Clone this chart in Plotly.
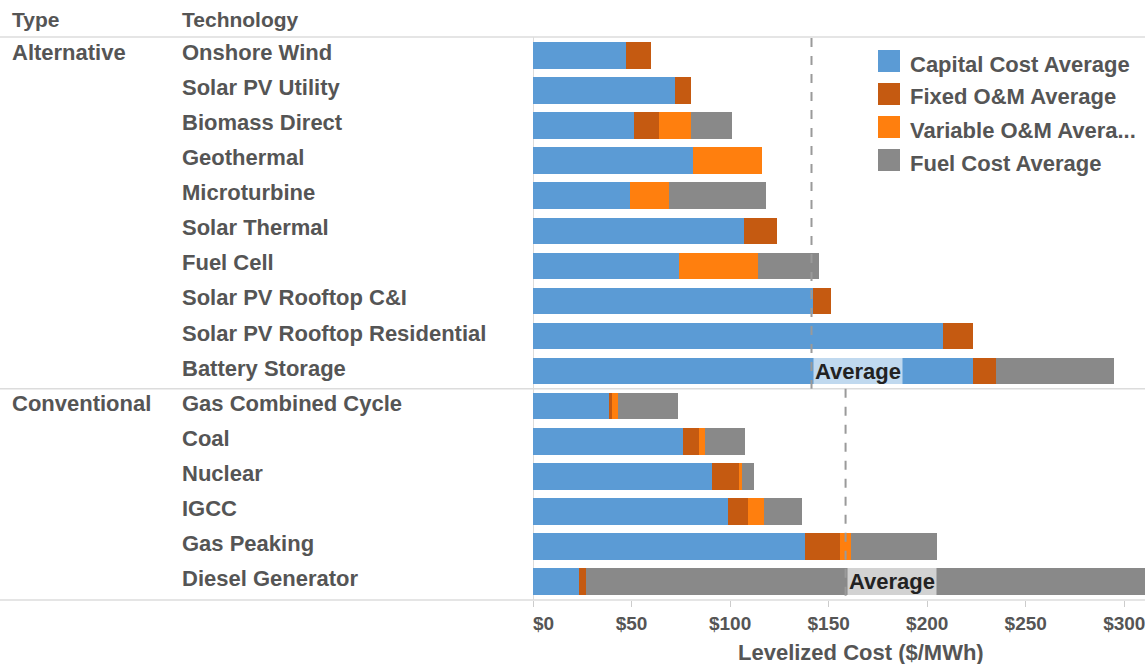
import plotly.graph_objects as go

# ---------------- data ----------------
types = ["Alternative", "Conventional"]
alt_tech = ["Onshore Wind", "Solar PV Utility", "Biomass Direct", "Geothermal", "Microturbine",
            "Solar Thermal", "Fuel Cell", "Solar PV Rooftop C&I", "Solar PV Rooftop Residential",
            "Battery Storage"]
conv_tech = ["Gas Combined Cycle", "Coal", "Nuclear", "IGCC", "Gas Peaking", "Diesel Generator"]

capital_cost = [47, 72, 51, 81, 49, 107, 74, 142, 208, 223,
                38.5, 76, 91, 99, 138, 23.5]
fixed_om = [13, 8, 13, 0, 0, 17, 0, 9, 15, 12,
            1.5, 8, 14, 10, 18, 3.5]
variable_om = [0, 0, 16, 35, 20, 0, 40, 0, 0, 0,
               3, 3.5, 1, 8, 5.5, 0]
fuel_cost = [0, 0, 21, 0, 49, 0, 31, 0, 0, 60,
             30.5, 20, 6, 19.5, 43.5, 290]

series_names = ["Capital Cost Average", "Fixed O&M Average", "Variable O&M Avera...", "Fuel Cost Average"]
series_colors = ["#5B9BD5", "#C55A11", "#FF7F0E", "#898989"]

tick_vals = [0, 50, 100, 150, 200, 250, 300]
tick_text = ["$0", "$50", "$100", "$150", "$200", "$250", "$300"]

# ---------------- figure ----------------
techs = alt_tech + conv_tech
series_values = [capital_cost, fixed_om, variable_om, fuel_cost]

W, H = 1145, 664
ML, MR, MT, MB = 533, 0, 37, 64
PW, PH = W - ML - MR, H - MT - MB


def px_x(p):
    return (p - ML) / PW


def px_y(p):
    return 1 - (p - MT) / PH


FONT = "Liberation Sans, Arial, sans-serif"
LABEL_COLOR = "#555555"
FS = 22

fig = go.Figure()
for name, vals, col in zip(series_names, series_values, series_colors):
    fig.add_trace(go.Bar(
        y=techs, x=vals, name=name, orientation="h",
        marker=dict(color=col, line=dict(width=0)),
        showlegend=False,
    ))

totals = [sum(v[i] for v in series_values) for i in range(len(techs))]
n_alt = len(alt_tech)
avg_alt = sum(totals[:n_alt]) / n_alt
avg_conv = sum(totals[n_alt:]) / len(conv_tech)

shapes = []
annotations = []

# header and separator lines
shapes.append(dict(type="line", xref="paper", yref="paper", x0=px_x(0), x1=1, y0=1, y1=1,
                   line=dict(color="#dcdcdc", width=1.5)))
shapes.append(dict(type="line", xref="paper", yref="y", x0=px_x(0), x1=1,
                   y0=n_alt - 0.5, y1=n_alt - 0.5, line=dict(color="#dcdcdc", width=1.5)))
shapes.append(dict(type="line", xref="paper", yref="paper", x0=px_x(0), x1=1, y0=0, y1=0,
                   line=dict(color="#dcdcdc", width=1.5)))

# average reference lines
shapes.append(dict(type="line", xref="x", yref="y", x0=avg_alt, x1=avg_alt,
                   y0=-0.5, y1=n_alt - 0.5, line=dict(color="#9a9a9a", width=2, dash="dash"),
                   layer="above"))
shapes.append(dict(type="line", xref="x", yref="y", x0=avg_conv, x1=avg_conv,
                   y0=n_alt - 0.5, y1=len(techs) - 0.5,
                   line=dict(color="#9a9a9a", width=2, dash="dash"), layer="above"))

for x_avg, row in [(avg_alt, alt_tech[-1]), (avg_conv, conv_tech[-1])]:
    annotations.append(dict(x=x_avg, y=row, xref="x", yref="y", xanchor="left", yanchor="middle",
                            text="<b>Average</b>", showarrow=False,
                            font=dict(family=FONT, size=22, color="#222222"),
                            bgcolor="rgba(255,255,255,0.62)", borderpad=1, xshift=1))

# header texts
annotations.append(dict(x=px_x(10), y=px_y(20), xref="paper", yref="paper", xanchor="left",
                        yanchor="middle", text="<b>Type</b>", showarrow=False,
                        font=dict(family=FONT, size=FS - 1, color="#555555")))
annotations.append(dict(x=px_x(180), y=px_y(20), xref="paper", yref="paper", xanchor="left",
                        yanchor="middle", text="<b>Technology</b>", showarrow=False,
                        font=dict(family=FONT, size=FS - 1, color="#555555")))

# row labels
for t in techs:
    annotations.append(dict(x=px_x(180), y=t, xref="paper", yref="y", xanchor="left",
                            yanchor="middle", text="<b>%s</b>" % t.replace("&", "&amp;"),
                            showarrow=False, yshift=3,
                            font=dict(family=FONT, size=FS, color=LABEL_COLOR)))
annotations.append(dict(x=px_x(10), y=alt_tech[0], xref="paper", yref="y", xanchor="left",
                        yanchor="middle", text="<b>%s</b>" % types[0], showarrow=False, yshift=3,
                        font=dict(family=FONT, size=FS, color=LABEL_COLOR)))
annotations.append(dict(x=px_x(10), y=conv_tech[0], xref="paper", yref="y", xanchor="left",
                        yanchor="middle", text="<b>%s</b>" % types[1], showarrow=False, yshift=3,
                        font=dict(family=FONT, size=FS, color=LABEL_COLOR)))

# custom legend
for i, (name, col) in enumerate(zip(series_names, series_colors)):
    top = 50 + 33 * i
    shapes.append(dict(type="rect", xref="paper", yref="paper",
                       x0=px_x(878), x1=px_x(900), y0=px_y(top + 22), y1=px_y(top),
                       fillcolor=col, line=dict(width=0), layer="above"))
    annotations.append(dict(x=px_x(908), y=px_y(top + 14), xref="paper", yref="paper",
                            xanchor="left", yanchor="middle",
                            text="<b>%s</b>" % name.replace("&", "&amp;"), showarrow=False,
                            font=dict(family=FONT, size=FS, color=LABEL_COLOR)))

# x axis title
annotations.append(dict(x=px_x(861), y=px_y(652), xref="paper", yref="paper", xanchor="center",
                        yanchor="middle", text="<b>Levelized Cost ($/MWh)</b>", showarrow=False,
                        font=dict(family=FONT, size=22, color=LABEL_COLOR)))

# first tick label sits to the right of its tick, others centred
shown_ticks = []
for i, t in enumerate(tick_text):
    if i == 0:
        shown_ticks.append("<b>\u00a0\u00a0\u00a0\u00a0%s</b>" % t)
    else:
        shown_ticks.append("<b>%s</b>" % t)

fig.update_layout(
    width=W, height=H,
    margin=dict(l=ML, r=MR, t=MT, b=MB, pad=0),
    barmode="stack", bargap=0.24,
    plot_bgcolor="white", paper_bgcolor="white",
    showlegend=False,
    shapes=shapes, annotations=annotations,
    xaxis=dict(range=[0, PW / 1.971], tickvals=tick_vals, ticktext=shown_ticks,
               showgrid=False, zeroline=True, zerolinecolor="#dcdcdc", zerolinewidth=1,
               ticks="outside", ticklen=6, tickcolor="#cccccc",
               tickfont=dict(family=FONT, size=19, color="#555555"),
               ticklabeloverflow="allow",
               showline=False, fixedrange=True),
    yaxis=dict(categoryorder="array", categoryarray=techs, autorange="reversed",
               showticklabels=False, showgrid=False, zeroline=False, showline=False),
    font=dict(family=FONT),
)

fig.write_html("out.html", config={"displayModeBar": False},
               post_script="document.body.style.margin='0';")
